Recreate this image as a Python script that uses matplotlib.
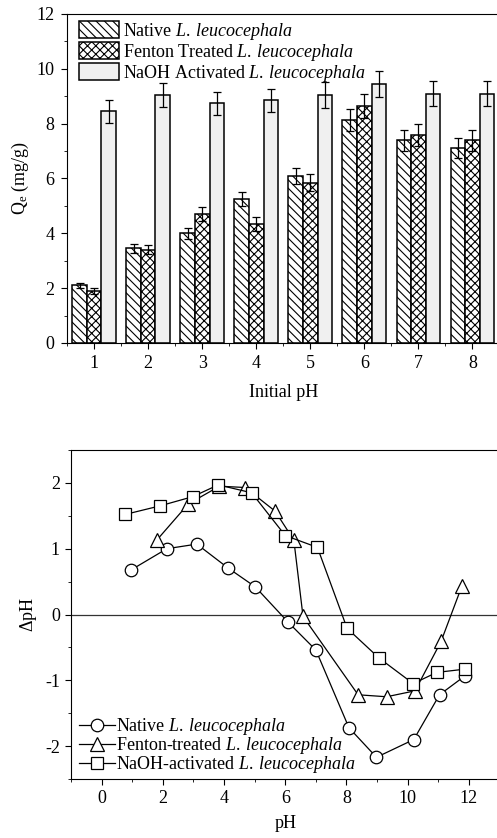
import numpy as np
import matplotlib
matplotlib.use('Agg')
import matplotlib.pyplot as plt
from matplotlib.ticker import MultipleLocator

plt.rcParams['font.family'] = ['Liberation Serif', 'DejaVu Serif']
plt.rcParams['font.size'] = 13
plt.rcParams['mathtext.fontset'] = 'custom'
plt.rcParams['mathtext.rm'] = 'Liberation Serif'
plt.rcParams['mathtext.it'] = 'Liberation Serif:italic'
plt.rcParams['axes.unicode_minus'] = False
plt.rcParams['hatch.linewidth'] = 0.8

# --- top panel data: Qe vs initial pH
initial_ph = [1, 2, 3, 4, 5, 6, 7, 8]
native_q = [2.1, 3.45, 4.0, 5.25, 6.1, 8.15, 7.4, 7.1]
native_err = [0.1, 0.15, 0.2, 0.27, 0.3, 0.4, 0.38, 0.37]
fenton_q = [1.9, 3.4, 4.7, 4.35, 5.85, 8.65, 7.6, 7.4]
fenton_err = [0.1, 0.17, 0.25, 0.25, 0.3, 0.45, 0.4, 0.38]
naoh_q = [8.45, 9.05, 8.75, 8.85, 9.05, 9.45, 9.1, 9.1]
naoh_err = [0.42, 0.45, 0.42, 0.43, 0.47, 0.47, 0.45, 0.47]

# --- bottom panel data: delta pH vs pH
native_ph = [0.97, 2.13, 3.11, 4.12, 5.02, 6.1, 7.0, 8.08, 8.98, 10.2, 11.04, 11.88]
native_dph = [0.68, 1.0, 1.07, 0.71, 0.42, -0.12, -0.54, -1.72, -2.17, -1.9, -1.22, -0.93]
fenton_ph = [1.8, 2.83, 3.85, 4.69, 5.67, 6.28, 6.58, 8.38, 9.31, 10.24, 11.09, 11.77]
fenton_dph = [1.13, 1.68, 1.95, 1.93, 1.57, 1.13, -0.03, -1.22, -1.25, -1.16, -0.41, 0.43]
naoh_ph = [0.76, 1.9, 2.97, 3.81, 4.9, 6.0, 7.05, 8.02, 9.06, 10.18, 10.95, 11.88]
naoh_dph = [1.52, 1.65, 1.79, 1.97, 1.85, 1.2, 1.02, -0.21, -0.66, -1.05, -0.88, -0.83]

sp = r'L.\:leucocephala'

fig = plt.figure(figsize=(4.97, 8.38), dpi=100)

# top bar chart
ax1 = fig.add_axes([0.135, 0.5907, 0.87, 0.3926])
x = np.array(initial_ph)
w = 0.27
ekw = dict(ecolor='black', elinewidth=0.9, capsize=3, capthick=0.9)
ax1.bar(x - w, native_q, w, yerr=native_err, color='white', edgecolor='black',
        hatch='\\\\\\\\', linewidth=1.1, error_kw=ekw,
        label=r'Native $\mathit{%s}$' % sp)
ax1.bar(x, fenton_q, w, yerr=fenton_err, color='white', edgecolor='black',
        hatch='xxxx', linewidth=1.1, error_kw=ekw,
        label=r'Fenton Treated $\mathit{%s}$' % sp)
ax1.bar(x + w, naoh_q, w, yerr=naoh_err, color='#f0f0f0', edgecolor='black',
        linewidth=1.1, error_kw=ekw,
        label=r'NaOH Activated $\mathit{%s}$' % sp)
ax1.set_xlim(0.5, 8.5)
ax1.set_ylim(0, 12)
ax1.xaxis.set_major_locator(MultipleLocator(1))
ax1.xaxis.set_minor_locator(MultipleLocator(0.5))
ax1.yaxis.set_major_locator(MultipleLocator(2))
ax1.yaxis.set_minor_locator(MultipleLocator(1))
ax1.tick_params(which='both', direction='out', top=False, right=False)
ax1.tick_params(which='major', length=4, pad=5)
ax1.tick_params(which='minor', length=2.5)
ax1.set_xlabel('Initial pH', labelpad=8)
ax1.set_ylabel(r'Q$_{\mathrm{e}}$ (mg/g)')
ax1.spines['right'].set_visible(False)
ax1.legend(loc='upper left', bbox_to_anchor=(0.02, 0.99), borderaxespad=0,
           borderpad=0.2, frameon=False, handlelength=2.2, handleheight=1.1,
           handletextpad=0.2, labelspacing=0.0)

# bottom point of zero charge chart
ax2 = fig.add_axes([0.143, 0.0704, 0.862, 0.3926])
mk = dict(color='black', markerfacecolor='white', markeredgecolor='black',
          linewidth=0.9, markeredgewidth=0.9)
ax2.plot(native_ph, native_dph, marker='o', markersize=9,
         label=r'Native $\mathit{%s}$' % sp, **mk)
ax2.plot(fenton_ph, fenton_dph, marker='^', markersize=10,
         label=r'Fenton-treated $\mathit{%s}$' % sp, **mk)
ax2.plot(naoh_ph, naoh_dph, marker='s', markersize=9,
         label=r'NaOH-activated $\mathit{%s}$' % sp, **mk)
ax2.axhline(0, color='#333333', linewidth=0.9, zorder=0)
ax2.set_xlim(-1, 13)
ax2.set_ylim(-2.5, 2.5)
ax2.xaxis.set_major_locator(MultipleLocator(2))
ax2.xaxis.set_minor_locator(MultipleLocator(1))
ax2.yaxis.set_major_locator(MultipleLocator(1))
ax2.yaxis.set_minor_locator(MultipleLocator(0.5))
ax2.tick_params(which='both', direction='out', top=False, right=False)
ax2.tick_params(which='major', length=4, pad=4)
ax2.tick_params(which='minor', length=2.5)
ax2.set_xlabel('pH', labelpad=6)
ax2.set_ylabel(r'$\Delta$pH')
ax2.spines['right'].set_visible(False)
ax2.legend(loc='lower left', bbox_to_anchor=(0.01, 0.0), borderaxespad=0,
           borderpad=0.2, frameon=False, handlelength=2.0, handletextpad=0.05,
           labelspacing=-0.1)

fig.savefig('out.png', dpi=100)
